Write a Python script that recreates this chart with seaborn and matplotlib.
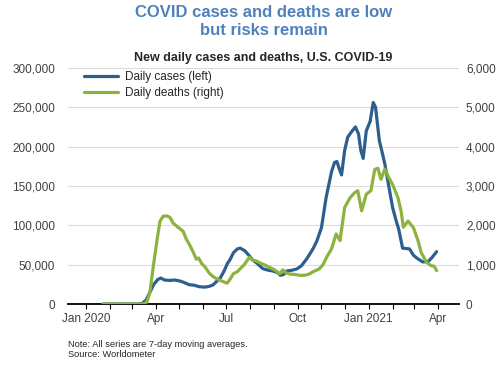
import pandas as pd
import matplotlib
matplotlib.use('Agg')
import matplotlib.pyplot as plt
import matplotlib.dates as mdates
from matplotlib.ticker import FuncFormatter
import seaborn as sns

# 数据：7日移动平均
case_dates = [
    "2020-01-23", "2020-03-08", "2020-03-14", "2020-03-19", "2020-03-24", "2020-03-29",
    "2020-04-03", "2020-04-07", "2020-04-12", "2020-04-19", "2020-04-25", "2020-05-01",
    "2020-05-07", "2020-05-14", "2020-05-20", "2020-05-27", "2020-06-03", "2020-06-09",
    "2020-06-14", "2020-06-18", "2020-06-23", "2020-06-28", "2020-07-02", "2020-07-06",
    "2020-07-10", "2020-07-15", "2020-07-19", "2020-07-25", "2020-07-30", "2020-08-04",
    "2020-08-10", "2020-08-17", "2020-08-24", "2020-08-30", "2020-09-05", "2020-09-09",
    "2020-09-13", "2020-09-17", "2020-09-24", "2020-09-30", "2020-10-06", "2020-10-13",
    "2020-10-21", "2020-10-26", "2020-11-01", "2020-11-07", "2020-11-14", "2020-11-18",
    "2020-11-21", "2020-11-24", "2020-11-27", "2020-12-01", "2020-12-05", "2020-12-10",
    "2020-12-15", "2020-12-19", "2020-12-22", "2020-12-25", "2020-12-29", "2021-01-03",
    "2021-01-07", "2021-01-10", "2021-01-15", "2021-01-18", "2021-01-22", "2021-01-26",
    "2021-02-01", "2021-02-05", "2021-02-09", "2021-02-14", "2021-02-19", "2021-02-23",
    "2021-02-28", "2021-03-05", "2021-03-12", "2021-03-19", "2021-03-24", "2021-03-30",
]
case_values = [
    0, 0, 800, 5000, 15000, 25000,
    31000, 33000, 30500, 30000, 30500, 29500,
    27500, 24500, 24000, 22000, 21500, 22500,
    24500, 28500, 33000, 42000, 51000, 57000,
    65000, 70000, 71000, 67500, 62000, 56000,
    51500, 45000, 43000, 42000, 40000, 36500,
    37500, 42000, 43000, 44500, 48500, 57500,
    70000, 80000, 97000, 135000, 168000, 180000,
    181000, 172000, 164000, 195000, 212000, 219000,
    225000, 216000, 195000, 185000, 220000, 232000,
    256000, 250000, 207000, 195000, 178000, 156000,
    123000, 108000, 95000, 71000, 70500, 70000,
    62000, 58000, 53500, 54000, 59000, 66500,
]

death_dates = [
    "2020-01-23", "2020-03-15", "2020-03-20", "2020-03-24", "2020-03-28", "2020-04-02",
    "2020-04-06", "2020-04-10", "2020-04-15", "2020-04-19", "2020-04-23", "2020-04-27",
    "2020-05-02", "2020-05-06", "2020-05-10", "2020-05-14", "2020-05-19", "2020-05-23",
    "2020-05-26", "2020-05-30", "2020-06-03", "2020-06-09", "2020-06-15", "2020-06-22",
    "2020-06-28", "2020-07-02", "2020-07-06", "2020-07-10", "2020-07-15", "2020-07-19",
    "2020-07-24", "2020-07-28", "2020-07-31", "2020-08-04", "2020-08-08", "2020-08-14",
    "2020-08-21", "2020-08-27", "2020-09-02", "2020-09-08", "2020-09-12", "2020-09-16",
    "2020-09-22", "2020-09-28", "2020-10-04", "2020-10-10", "2020-10-16", "2020-10-22",
    "2020-10-29", "2020-11-03", "2020-11-08", "2020-11-14", "2020-11-20", "2020-11-25",
    "2020-12-01", "2020-12-08", "2020-12-14", "2020-12-18", "2020-12-23", "2020-12-29",
    "2021-01-04", "2021-01-09", "2021-01-13", "2021-01-17", "2021-01-22", "2021-01-27",
    "2021-02-01", "2021-02-08", "2021-02-12", "2021-02-15", "2021-02-21", "2021-02-28",
    "2021-03-06", "2021-03-10", "2021-03-17", "2021-03-23", "2021-03-27", "2021-03-30",
]
death_values = [
    0, 0, 50, 300, 900, 1600,
    2100, 2230, 2240, 2200, 2060, 1990,
    1910, 1850, 1650, 1520, 1320, 1140,
    1170, 1030, 950, 780, 680, 610,
    560, 530, 640, 770, 820, 900,
    1000, 1110, 1190, 1110, 1100, 1040,
    980, 920, 860, 770, 870, 790,
    760, 750, 730, 730, 760, 830,
    890, 1000, 1200, 1400, 1780, 1610,
    2450, 2700, 2830, 2880, 2370, 2790,
    2880, 3420, 3450, 3170, 3430, 3220,
    3040, 2700, 2370, 1950, 2110, 1940,
    1610, 1310, 1060, 975, 960, 850,
]

tick_dates = ["2020-01-01", "2020-04-01", "2020-07-01", "2020-10-01", "2021-01-01", "2021-04-01"]
tick_labels = ["Jan 2020", "Apr", "Jul", "Oct", "Jan 2021", "Apr"]

title_lines = ["COVID cases and deaths are low", "but risks remain"]
subtitle_text = "New daily cases and deaths, U.S. COVID-19"
note_text = "Note: All series are 7-day moving averages.\nSource: Worldometer"

BLUE = "#2d5f8e"
GREEN = "#8cb33f"
TITLE_BLUE = "#4f81bd"
TEXT = "#404040"

sns.set_theme(style="white")
plt.rcParams['font.family'] = ['Liberation Sans', 'DejaVu Sans']

df_cases = pd.DataFrame({"date": pd.to_datetime(case_dates), "cases": case_values})
df_deaths = pd.DataFrame({"date": pd.to_datetime(death_dates), "deaths": death_values})

fig = plt.figure(figsize=(5, 3.65), dpi=100)
ax = fig.add_axes([0.136, 0.167, 0.782, 0.647])
ax2 = ax.twinx()

sns.lineplot(data=df_cases, x="date", y="cases", ax=ax, color=BLUE, lw=2.3,
             estimator=None, legend=False)
sns.lineplot(data=df_deaths, x="date", y="deaths", ax=ax2, color=GREEN, lw=2.3,
             estimator=None, legend=False)

# 坐标轴范围
ax.set_xlim(pd.Timestamp("2019-12-09"), pd.Timestamp("2021-04-28"))
ax.set_ylim(0, 300000)
ax2.set_ylim(0, 6000)
ax.set_yticks(range(0, 300001, 50000))
ax2.set_yticks(range(0, 6001, 1000))
fmt = FuncFormatter(lambda v, p: f"{v:,.0f}")
ax.yaxis.set_major_formatter(fmt)
ax2.yaxis.set_major_formatter(fmt)

ax.set_xticks(pd.to_datetime(tick_dates))
ax.set_xticklabels(tick_labels)
ax.xaxis.set_minor_locator(mdates.MonthLocator())

ax.set_xlabel("")
ax.set_ylabel("")
ax2.set_ylabel("")

ax.yaxis.grid(True, color="#dcdcdc", lw=0.8)
ax.set_axisbelow(True)
ax2.grid(False)

for s in ["top", "left", "right"]:
    ax.spines[s].set_visible(False)
for s in ax2.spines.values():
    s.set_visible(False)
ax.spines["bottom"].set_color("black")
ax.spines["bottom"].set_linewidth(1.3)

ax.tick_params(axis="y", length=0, pad=9.4, labelsize=8.5, labelcolor=TEXT)
ax2.tick_params(axis="y", length=0, pad=5, labelsize=8.5, labelcolor=TEXT)
ax.tick_params(axis="x", which="both", direction="out", length=3.5, width=0.8,
               color="black", bottom=True, pad=3, labelsize=8.5, labelcolor=TEXT)

# 图例
handles = [plt.Line2D([], [], color=BLUE, lw=2.3), plt.Line2D([], [], color=GREEN, lw=2.3)]
ax.legend(handles, ["Daily cases (left)", "Daily deaths (right)"], loc="upper left",
          bbox_to_anchor=(0.02, 1.02), frameon=False, fontsize=8.5, handlelength=2.9,
          handletextpad=0.6, labelspacing=0.3, borderpad=0.2, labelcolor="#262626")

# 标题与注释
fig.text(0.527, 1 - 16.7 / 365, title_lines[0], ha="center", va="baseline", fontsize=12,
         fontweight="bold", color=TITLE_BLUE)
fig.text(0.527, 1 - 35 / 365, title_lines[1], ha="center", va="baseline", fontsize=12,
         fontweight="bold", color=TITLE_BLUE)
fig.text(0.527, 1 - 61.5 / 365, subtitle_text, ha="center", va="baseline", fontsize=9,
         fontweight="bold", color="#262626")
fig.text(0.136, 1 - 340 / 365, note_text, ha="left", va="top", fontsize=6.7,
         color="#262626", linespacing=1.15)

fig.savefig("out.png", dpi=100)
